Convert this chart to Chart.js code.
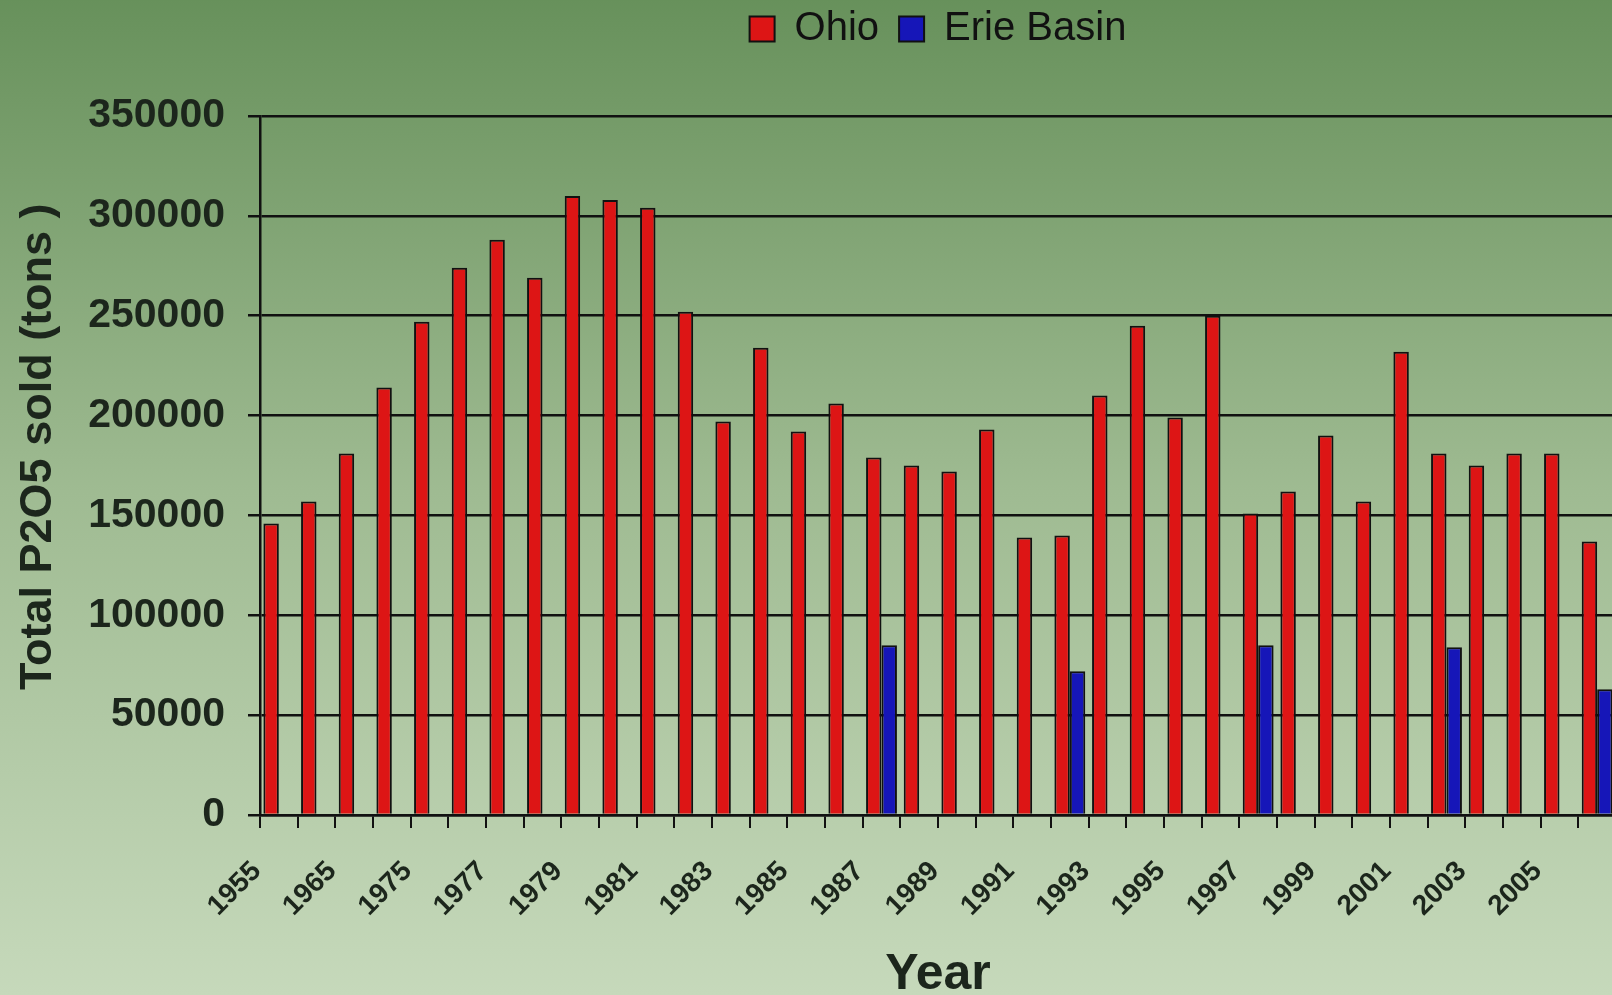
<!DOCTYPE html>
<html>
<head>
<meta charset="utf-8">
<script src="https://cdn.jsdelivr.net/npm/chart.js@4.4.0/dist/chart.umd.min.js"></script>
<style>
  html, body { margin:0; padding:0; overflow:hidden; width:1612px; height:995px; background:#c4d7b9; }
  #wrap { position:absolute; left:0; top:-11px; width:1640px; height:1006px; }
</style>
</head>
<body>
<div id="wrap"><canvas id="chart"></canvas></div>
<script>
// Données
const annees = ['1955', '1960', '1965', '1970',
  '1975', '1976', '1977', '1978', '1979', '1980', '1981', '1982', '1983', '1984',
  '1985', '1986', '1987', '1988', '1989', '1990', '1991', '1992', '1993', '1994',
  '1995', '1996', '1997', '1998', '1999', '2000', '2001', '2002', '2003', '2004',
  '2005', '2006'];
const ohio = [146000, 157000, 181000, 214000,
  247000, 274000, 288000, 269000, 310000, 308000, 304000, 252000, 197000, 234000,
  192000, 206000, 179000, 175000, 172000, 193000, 139000, 140000, 210000, 245000,
  199000, 250000, 151000, 162000, 190000, 157000, 232000, 181000, 175000, 181000,
  181000, 137000];
const erieBasin = [null, null, null, null,
  null, null, null, null, null, null, null, null, null, null,
  null, null, 85000, null, null, null, null, 72000, null, null,
  null, null, 85000, null, null, null, null, 84000, null, null,
  null, 63000];

const yMin = 0, yMax = 350000, yPas = 50000;

const texte = '#1c261c';
const trait = '#111';
Chart.defaults.font.family = '"Liberation Sans", Arial, sans-serif';

const fondDegrade = {
  id: 'fondDegrade',
  beforeDraw(chart) {
    const { ctx, width, height } = chart;
    const g = ctx.createLinearGradient(0, 0, 0, height);
    g.addColorStop(0, '#66905a');
    g.addColorStop(0.5, '#9fbb92');
    g.addColorStop(1, '#c6d9bb');
    ctx.save();
    ctx.fillStyle = g;
    ctx.fillRect(0, 0, width, height);
    ctx.restore();
  }
};

new Chart(document.getElementById('chart'), {
  type: 'bar',
  data: {
    labels: annees,
    datasets: [
      { label: 'Ohio', data: ohio, backgroundColor: '#dd1515', borderColor: trait, borderWidth: 2,
        categoryPercentage: 0.82, barPercentage: 1 },
      { label: 'Erie Basin', data: erieBasin, backgroundColor: '#1616b8', borderColor: trait, borderWidth: 2,
        categoryPercentage: 0.82, barPercentage: 1 }
    ]
  },
  options: {
    responsive: true,
    maintainAspectRatio: false,
    animation: false,
    layout: { padding: { left: 0, right: 24, top: 0, bottom: 0 } },
    plugins: {
      legend: {
        position: 'top', fullSize: false,
        labels: { boxWidth: 25, boxHeight: 25, padding: 20, color: trait, font: { size: 40 } }
      },
      // espace vide entre la légende et le graphique
      title: {
        display: true, text: ' ', weight: 500, fullSize: false,
        font: { size: 40, lineHeight: 1 }, padding: { top: 8, bottom: 9 }
      },
      tooltip: { enabled: false }
    },
    scales: {
      x: {
        offset: true,
        grid: { display: true, drawOnChartArea: false, drawTicks: true, tickLength: 13, offset: true, color: trait, lineWidth: 2 },
        border: { display: true, color: trait, width: 2.5 },
        ticks: {
          autoSkip: false, minRotation: 45, maxRotation: 45, padding: 27, labelOffset: -22, color: texte,
          font: { size: 28, weight: 'bold' },
          callback: (v, i) => i % 2 === 0 ? annees[i] : ''
        },
        title: { display: true, text: 'Year', color: texte, font: { size: 50, weight: 'bold', lineHeight: 0.8 }, padding: { top: 0, bottom: 0 } },
        afterFit: s => { s.height = 180; s.paddingLeft = 0; s.paddingRight = 0; }
      },
      y: {
        min: yMin, max: yMax,
        ticks: { stepSize: yPas, padding: 23, color: texte, font: { size: 41, weight: 'bold' }, callback: v => String(v) },
        grid: { color: trait, lineWidth: 2.5, tickLength: 12, drawTicks: true },
        border: { display: true, color: trait, width: 2.5 },
        title: { display: true, text: '   Total P2O5 sold (tons )', color: texte, font: { size: 45, weight: 'bold', lineHeight: 1 }, padding: { top: 16, bottom: 0 } },
        afterFit: s => { s.width = 260; }
      }
    }
  },
  plugins: [fondDegrade]
});
</script>
</body>
</html>
